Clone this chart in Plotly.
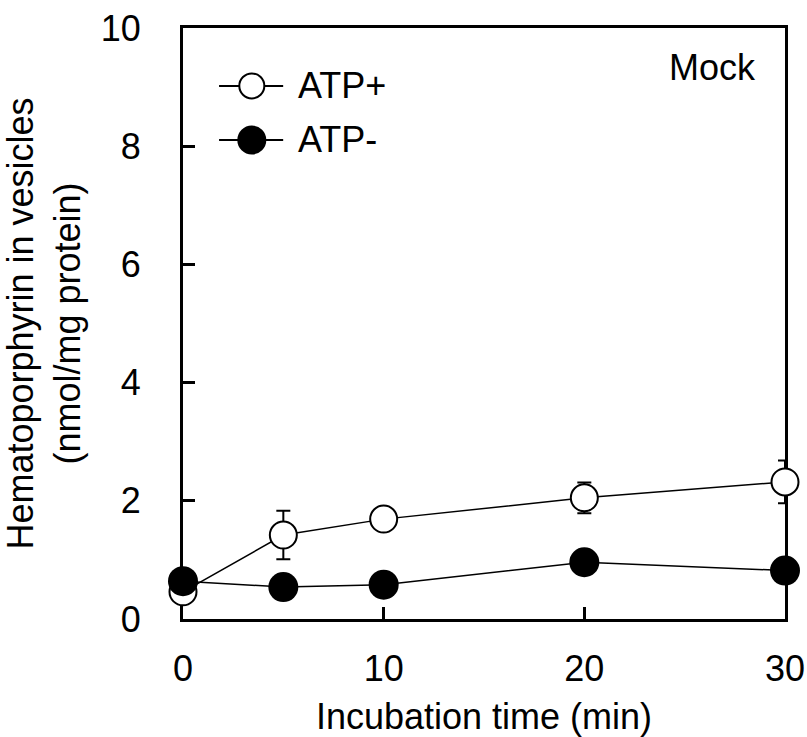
import plotly.graph_objects as go

time_min = [0, 5, 10, 20, 30]
atp_plus = [0.46, 1.42, 1.69, 2.05, 2.32]
atp_plus_err = [0.0, 0.41, 0.0, 0.26, 0.36]
atp_minus = [0.64, 0.54, 0.58, 0.96, 0.82]

x_ticks = [0, 10, 20, 30]
y_ticks = [0, 2, 4, 6, 8, 10]

FONT = "Liberation Sans, Arial, sans-serif"
FS = 36

fig = go.Figure()

fig.add_trace(go.Scatter(
    x=time_min, y=atp_plus, mode="lines+markers", name="ATP+",
    line=dict(color="black", width=1.5),
    marker=dict(symbol="circle", size=27, color="white",
                line=dict(color="black", width=2)),
    error_y=dict(type="data", array=atp_plus_err, visible=True,
                 color="black", thickness=2, width=7),
    cliponaxis=False, showlegend=False,
))
fig.add_trace(go.Scatter(
    x=time_min, y=atp_minus, mode="lines+markers", name="ATP-",
    line=dict(color="black", width=1.5),
    marker=dict(symbol="circle", size=30, color="black",
                line=dict(color="black", width=0)),
    cliponaxis=False, showlegend=False,
))

# legend drawn as layout shapes / annotations
legend_rows = [("ATP+", "white", 12.5, 0.902), ("ATP-", "black", 13.5, 0.8105)]
shapes = []
annotations = []
for label, fill, r, yy in legend_rows:
    shapes.append(dict(type="line", xref="paper", yref="paper",
                       x0=0.0599, x1=0.1664, y0=yy, y1=yy,
                       line=dict(color="black", width=2)))
    shapes.append(dict(type="circle", xref="paper", yref="paper",
                       xsizemode="pixel", ysizemode="pixel",
                       xanchor=0.1143, yanchor=yy,
                       x0=-r, x1=r, y0=-r, y1=r,
                       fillcolor=fill, line=dict(color="black", width=2)))
    annotations.append(dict(text=label, xref="paper", yref="paper",
                            x=0.1875, y=yy, xanchor="left", yanchor="middle",
                            showarrow=False, font=dict(family=FONT, size=FS, color="black")))

annotations.append(dict(text="Mock", xref="paper", yref="paper",
                        x=0.880, y=0.934, xanchor="center", yanchor="middle",
                        showarrow=False, font=dict(family=FONT, size=FS, color="black")))

fig.update_layout(
    width=807, height=737,
    margin=dict(l=183, r=22, t=28, b=118),
    paper_bgcolor="white", plot_bgcolor="white",
    font=dict(family=FONT, size=FS, color="black"),
    shapes=shapes, annotations=annotations,
    showlegend=False,
)
fig.update_xaxes(
    range=[0, 30], tickvals=x_ticks, ticktext=[str(v) for v in x_ticks],
    ticks="inside", ticklen=12, tickwidth=3, tickcolor="black",
    showline=True, linewidth=3, linecolor="black", mirror=True,
    showgrid=False, zeroline=False, layer="below traces",
    ticklabelstandoff=16, automargin=False, ticklabeloverflow="allow",
    title=dict(text="Incubation time (min)", standoff=24,
               font=dict(family=FONT, size=FS)),
)
fig.update_yaxes(
    range=[0, 10], tickvals=y_ticks, ticktext=[str(v) for v in y_ticks],
    ticks="inside", ticklen=12, tickwidth=3, tickcolor="black",
    showline=True, linewidth=3, linecolor="black", mirror=True,
    showgrid=False, zeroline=False, layer="below traces",
    ticklabelstandoff=32, automargin=False, ticklabeloverflow="allow",
    title=dict(text="Hematoporphyrin in vesicles<br>(nmol/mg protein)", standoff=20,
               font=dict(family=FONT, size=FS)),
)

fig.write_html(
    "out.html",
    config={"displayModeBar": False},
    post_script="document.body.style.margin='0';document.body.style.overflow='hidden';",
)
